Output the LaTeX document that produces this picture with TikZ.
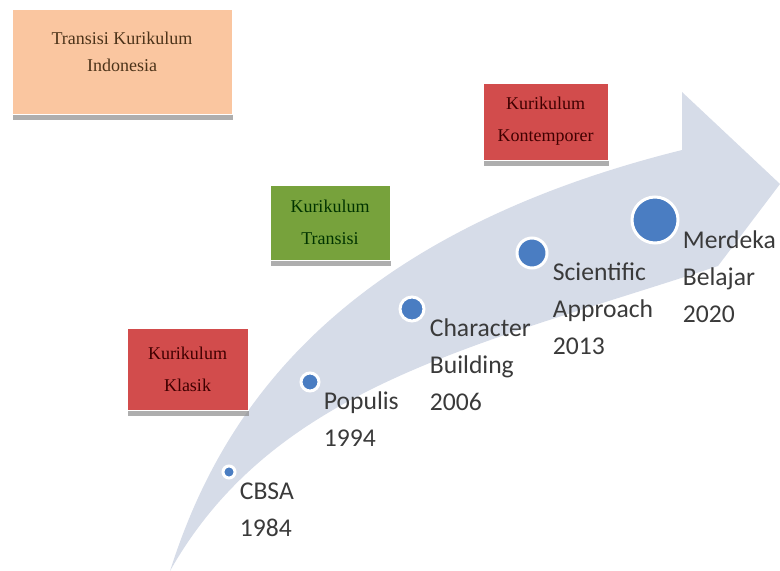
\documentclass[tikz,border=0pt]{standalone}
\usepackage{fontspec}
\setmainfont{Liberation Serif}
\newfontfamily\labelfont{Carlito}
\usetikzlibrary{shapes,arrows,positioning,shadows}

\definecolor{arrowfill}{HTML}{D6DCE8}
\definecolor{dotblue}{HTML}{4A7DC2}
\definecolor{peach}{HTML}{FAC6A0}
\definecolor{brick}{HTML}{D24C4C}
\definecolor{olive}{HTML}{77A23C}
\definecolor{labelgrey}{HTML}{3A3A3A}

\tikzstyle{era} = [rectangle, draw=white, inner sep=0pt, align=center,
  font=\fontsize{9}{16}\selectfont,
  drop shadow={shadow xshift=0.5pt, shadow yshift=-3pt, fill=black!45, opacity=0.7}]
\tikzstyle{milestone} = [circle, fill=dotblue, draw=white, line width=1.5pt, inner sep=0pt]
\tikzstyle{year} = [inner sep=0pt, align=left, text=labelgrey,
  font=\labelfont\fontsize{12.8}{18.5}\selectfont]

\begin{document}
\begin{tikzpicture}[x=0.5pt,y=-0.5pt]
	\useasboundingbox (0,0) rectangle (780,571);

	% the big curved arrow
	\fill[arrowfill] (170,571) .. controls (215,430) and (320,240) .. (682,150)
		-- (682,92) -- (780,184) -- (718,266)
		.. controls (480,345) and (275,385) .. (170,571) -- cycle;

	% boxes for the periods
	\node [era,fill=peach,minimum width=110pt,minimum height=52.5pt] (indo) at (122,62) {};
	\node [anchor=north,align=center,text=brown!40!black,font=\fontsize{9}{13.5}\selectfont]
		(indotext) at ([yshift=-8pt]indo.north) {Transisi Kurikulum\\Indonesia};
	\node [era,fill=brick,text=red!25!black,minimum width=60.5pt,minimum height=41pt]
		(klasik) at (187.5,369) {Kurikulum\\Klasik};
	\node [era,fill=olive,text=green!20!black,minimum width=60pt,minimum height=37.5pt]
		(transisi) at (330,222.5) {Kurikulum\\Transisi};
	\node [era,fill=brick,text=red!25!black,minimum width=62.5pt,minimum height=38.5pt]
		(kontemporer) at (545.5,121.5) {Kurikulum\\Kontemporer};

	% milestones on the arrow
	\node [milestone,minimum size=6pt] (d84) at (229,472) {};
	\node [milestone,minimum size=9pt] (d94) at (310,382) {};
	\node [milestone,minimum size=12pt] (d06) at (412,309) {};
	\node [milestone,minimum size=15pt] (d13) at (532,253) {};
	\node [milestone,minimum size=23pt] (d20) at (655,220) {};

	% their labels
	\node [year,below right=5pt and 1.5pt of d84.east] (cbsa) {CBSA\\1984};
	\node [year,below right=4.5pt and 1.5pt of d94.east] (populis) {Populis\\1994};
	\node [year,below right=4.5pt and 2pt of d06.east] (character) {Character\\Building\\2006};
	\node [year,below right=4.5pt and 2pt of d13.east] (scientific) {Scientific\\Approach\\2013};
	\node [year,below right=5pt and 1.5pt of d20.east] (merdeka) {Merdeka\\Belajar\\2020};

\end{tikzpicture}
\end{document}
